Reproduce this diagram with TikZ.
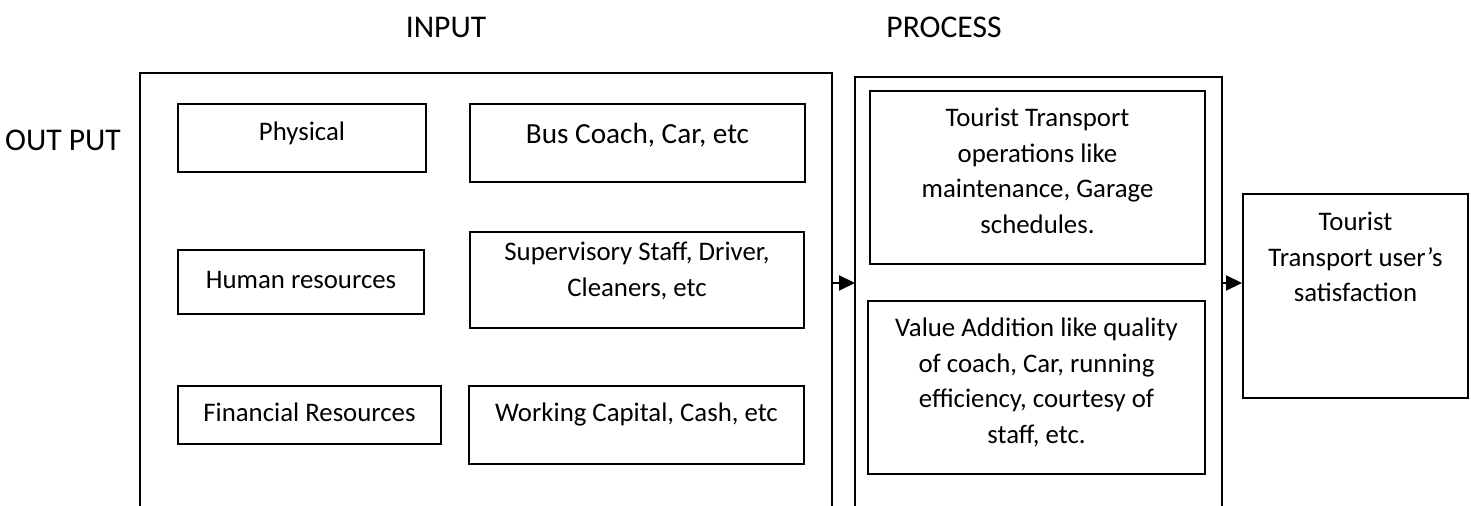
\documentclass[tikz,border=0pt]{standalone}
\usepackage{fontspec}
\setmainfont{Carlito}
\usetikzlibrary{arrows.meta}

\begin{document}
\begin{tikzpicture}[x=0.5pt,y=0.5pt,yscale=-1,
  font=\fontsize{15.8}{17.85}\selectfont,
  box/.style={draw, line width=1pt, align=center, inner sep=0pt, anchor=north west,
    font=\fontsize{13.4}{17.85}\selectfont},
  lbl/.style={inner sep=0pt},
  arr/.style={line width=1pt, -{Triangle[length=8pt,width=7.5pt]}}]
\useasboundingbox (0,0) rectangle (1471,506);

% Text Node
\node[lbl] (input) at (446,27) {INPUT};
% Text Node
\node[lbl] (process) at (944,27) {PROCESS};
% Text Node
\node[lbl] (output) at (63,140) {OUT PUT};

%Shape: Input frame
\draw[line width=1pt] (140,506) -- (140,73) -- (832,73) -- (832,506);
%Shape: Process frame
\draw[line width=1pt] (855,506) -- (855,77) -- (1222,77) -- (1222,506);

% Input boxes
\node[box, minimum width=124pt, text height=18.5pt, text depth=15.5pt] (phys) at (177,103) {Physical};
\node[box, minimum width=167.5pt, text height=20pt, text depth=19pt,
  font=\fontsize{14.6}{17.85}\selectfont] (bus) at (469,103) {Bus Coach, Car, etc};
\node[box, minimum width=123pt, text height=19.5pt, text depth=12.5pt] (human) at (177,249) {Human resources};
\node[box, minimum width=167pt, text height=32.25pt, text depth=15.75pt] (staff) at (469,231) {Supervisory Staff, Driver,\\Cleaners, etc};
\node[box, minimum width=131.5pt, text height=18pt, text depth=11pt] (fin) at (177,385) {Financial Resources};
\node[box, minimum width=167.5pt, text height=18pt, text depth=21pt] (cash) at (468,385) {Working Capital, Cash, etc};

% Process boxes
\node[box, minimum width=167.5pt, text height=71.25pt, text depth=15.25pt] (ops) at (869,90) {Tourist Transport\\operations like\\maintenance, Garage\\schedules.};
\node[box, minimum width=168.5pt, text height=71.25pt, text depth=15.25pt] (value) at (867,300) {Value Addition like quality\\of coach, Car, running\\efficiency, courtesy of\\staff, etc.};

% Output box
\node[box, minimum width=112.5pt, text height=54pt, text depth=48pt] (user) at (1242,193) {Tourist\\Transport user’s\\satisfaction};

% Arrows
\coordinate (inE) at (832,283);
\coordinate (prW) at (855,283);
\coordinate (prE) at (1222,283);
\draw[arr] (inE) -- (prW);
\draw[arr] (prE) -- (prE -| user.west);

\end{tikzpicture}
\end{document}
